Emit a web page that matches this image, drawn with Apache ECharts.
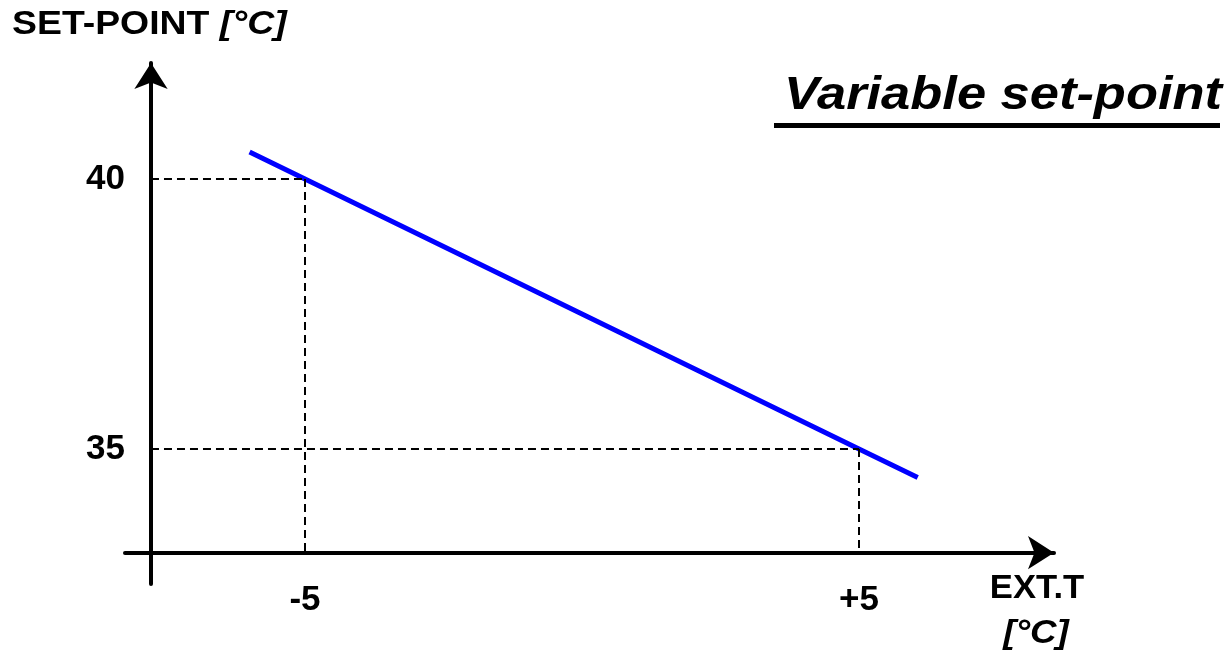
<!DOCTYPE html>
<html>
<head>
<meta charset="utf-8">
<script src="https://cdn.jsdelivr.net/npm/echarts@6/dist/echarts.min.js"></script>
<style>
html,body{margin:0;padding:0;background:#fff;}
#main{width:1231px;height:657px;}
</style>
</head>
<body>
<div id="main"></div>
<script>
// Data
const lineX = [-6, -5, 5, 6.06];
const lineY = [40.5, 40, 35, 34.47];
const guideX = [-5, 5];
const guideY = [40, 35];
const xTickValues = [-5, 5];
const xTickLabels = ['-5', '+5'];
const yTickValues = [35, 40];
const yTickLabels = ['35', '40'];
const xRange = [-8.249, 8.52];
const yRange = [32.5, 42.148];
const axisCrossX = -7.78;   // where the vertical axis crosses
const axisCrossY = 33.08;   // where the horizontal axis crosses

const FONT = '"Liberation Sans", Arial, sans-serif';

const chart = echarts.init(document.getElementById('main'), null, {renderer: 'canvas'});

const guideLines = [];
for (let i = 0; i < guideX.length; i++) {
  guideLines.push([{coord: [axisCrossX, guideY[i]]}, {coord: [guideX[i], guideY[i]]}]);
  guideLines.push([{coord: [guideX[i], guideY[i]]}, {coord: [guideX[i], axisCrossY]}]);
}

const option = {
  animation: false,
  backgroundColor: '#fff',
  grid: {left: 125, top: 63, width: 929, height: 521, containLabel: false},
  xAxis: {
    type: 'value', min: xRange[0], max: xRange[1],
    offset: -31.3,
    axisLine: {show: true, onZero: false, lineStyle: {color: '#000', width: 4}, symbol: ['none', 'arrow'], symbolSize: [25, 26]},
    axisTick: {show: false},
    splitLine: {show: false},
    axisLabel: {
      customValues: xTickValues,
      formatter: v => xTickLabels[xTickValues.indexOf(v)],
      color: '#000', fontFamily: FONT, fontWeight: 'bold', fontSize: 35, margin: 30
    }
  },
  yAxis: {
    type: 'value', min: yRange[0], max: yRange[1],
    offset: -26,
    axisLine: {show: true, onZero: false, lineStyle: {color: '#000', width: 4}, symbol: ['none', 'arrow'], symbolSize: [25, 26]},
    axisTick: {show: false},
    splitLine: {show: false},
    axisLabel: {
      customValues: yTickValues,
      formatter: v => yTickLabels[yTickValues.indexOf(v)],
      color: '#000', fontFamily: FONT, fontWeight: 'bold', fontSize: 35, margin: 26
    }
  },
  graphic: [
    {type: 'text', x: 12, y: 25, scaleX: 1.1, style: {
      text: '{a|SET-POINT }{b|[°C]}', verticalAlign: 'middle', align: 'left',
      rich: {
        a: {fontFamily: FONT, fontWeight: 'bold', fontSize: 34, fill: '#000'},
        b: {fontFamily: FONT, fontWeight: 'bold', fontStyle: 'italic', fontSize: 34, fill: '#000'}
      }
    }},
    {type: 'text', x: 1222, y: 96, scaleX: 1.14, style: {
      text: 'Variable set-point', fontFamily: FONT, fontWeight: 'bold', fontStyle: 'italic', fontSize: 46, fill: '#000',
      align: 'right', verticalAlign: 'middle'
    }},
    {type: 'rect', shape: {x: 774, y: 123, width: 446, height: 5}, style: {fill: '#000'}},
    {type: 'text', x: 1037, y: 589, scaleX: 1.05, style: {
      text: 'EXT.T', fontFamily: FONT, fontWeight: 'bold', fontSize: 33, fill: '#000', align: 'center', verticalAlign: 'middle'
    }},
    {type: 'text', x: 1036, y: 634, scaleX: 1.08, style: {
      text: '[°C]', fontFamily: FONT, fontWeight: 'bold', fontStyle: 'italic', fontSize: 34, fill: '#000', align: 'center', verticalAlign: 'middle'
    }}
  ],
  series: [{
    type: 'line',
    data: lineX.map((x, i) => [x, lineY[i]]),
    showSymbol: false,
    lineStyle: {color: '#0000ff', width: 5},
    markLine: {
      silent: true,
      symbol: ['none', 'none'],
      label: {show: false},
      lineStyle: {color: '#000', width: 2, type: [8, 5]},
      data: guideLines
    },
    z: 3
  }]
};
chart.setOption(option);
</script>
</body>
</html>
